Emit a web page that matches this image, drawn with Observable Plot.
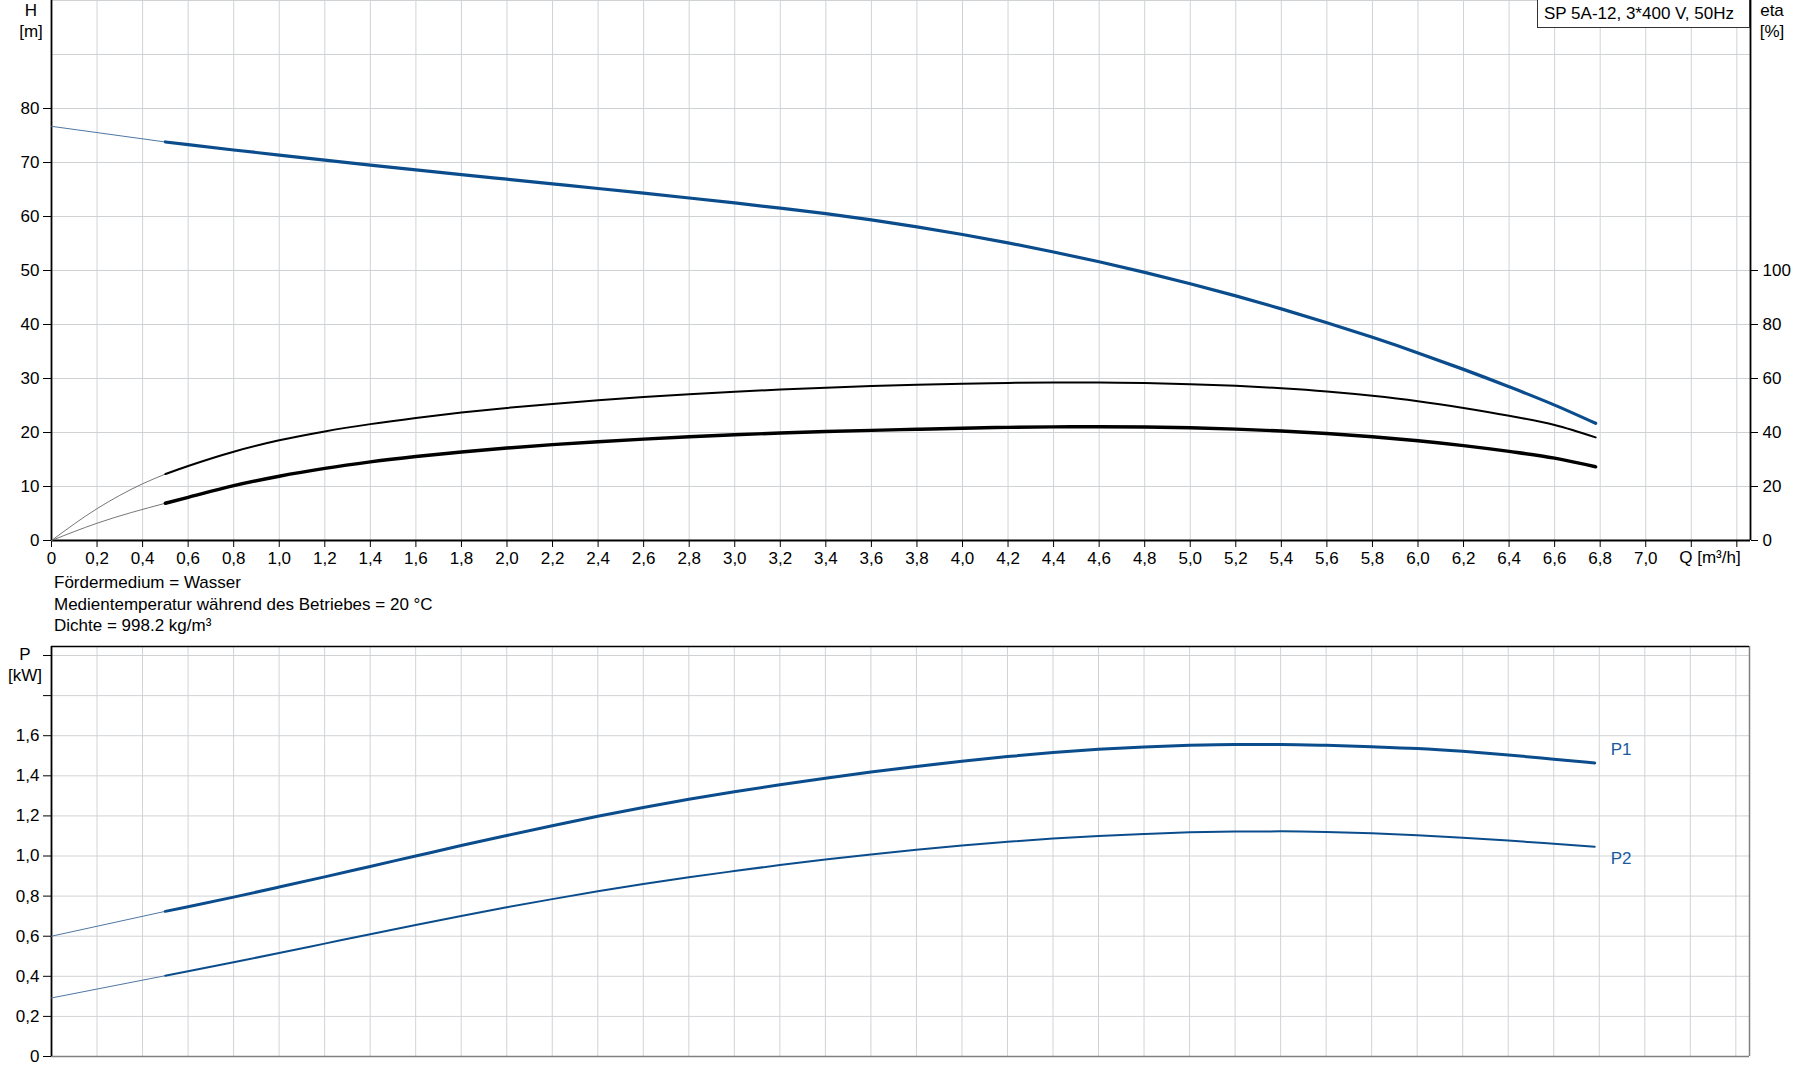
<!DOCTYPE html>
<html>
<head>
<meta charset="utf-8">
<script src="https://cdn.jsdelivr.net/npm/d3@7"></script>
<script src="https://cdn.jsdelivr.net/npm/@observablehq/plot@0.6"></script>
<style>
  html, body { margin: 0; padding: 0; background: #fff; }
  body { width: 1795px; height: 1081px; position: relative; overflow: hidden;
         font-family: "Liberation Sans", Arial, sans-serif; font-size: 17px; color: #000; }
  .abs { position: absolute; }
  .unit { position: absolute; text-align: center; line-height: 21px; }
</style>
</head>
<body>
<div id="chartTop" class="abs" style="left:0;top:0"></div>
<div id="chartBottom" class="abs" style="left:0;top:642px"></div>
<div class="unit" style="left:10px;top:0px;width:42px">H<br>[m]</div>
<div class="unit" style="left:1752px;top:0px;width:40px">eta<br>[%]</div>
<div class="unit" style="left:4px;top:644px;width:42px">P<br>[kW]</div>
<div class="abs" style="left:1537px;top:0;width:205px;height:27px;border:1px solid #333;border-top:none;background:#fff;padding-left:6px;line-height:27px;white-space:nowrap">SP 5A-12, 3*400 V, 50Hz</div>
<div class="abs" style="left:54px;top:572px;line-height:21.5px">Fördermedium = Wasser<br>Medientemperatur während des Betriebes = 20 °C<br>Dichte = 998.2 kg/m³</div>
<script>
// ---- data ----
const Q      = [0.5,0.6,0.8,1.0,1.2,1.4,1.6,1.8,2.0,2.2,2.4,2.6,2.8,3.0,3.2,3.4,3.6,3.8,4.0,4.2,4.4,4.6,4.8,5.0,5.2,5.4,5.6,5.8,6.0,6.2,6.4,6.6,6.78];
const H      = [73.8,73.3,72.32,71.37,70.44,69.53,68.64,67.77,66.91,66.05,65.19,64.32,63.43,62.51,61.55,60.53,59.38,58.08,56.66,55.11,53.43,51.61,49.65,47.55,45.3,42.9,40.34,37.62,34.74,31.69,28.47,25.07,21.7];
const ETA    = [24.6,27.6,32.9,37.1,40.4,43.1,45.4,47.4,49.1,50.6,51.95,53.15,54.2,55.1,55.9,56.6,57.2,57.7,58.1,58.35,58.5,58.5,58.3,57.9,57.3,56.4,55.2,53.6,51.6,49.1,46.2,42.8,38.2];
const ETA_TOT= [13.8,16.0,20.3,23.8,26.7,29.1,31.1,32.8,34.25,35.5,36.6,37.55,38.4,39.15,39.8,40.35,40.8,41.2,41.6,41.9,42.1,42.15,42.05,41.75,41.25,40.55,39.65,38.45,36.95,35.15,33.0,30.5,27.3];
const P1     = [0.724,0.747,0.795,0.845,0.896,0.948,1.000,1.052,1.102,1.151,1.198,1.242,1.283,1.320,1.355,1.388,1.419,1.447,1.473,1.496,1.516,1.532,1.544,1.552,1.556,1.556,1.552,1.545,1.536,1.522,1.504,1.483,1.464];
const P2     = [0.403,0.425,0.470,0.516,0.563,0.610,0.656,0.701,0.744,0.785,0.824,0.860,0.894,0.925,0.955,0.983,1.008,1.031,1.053,1.071,1.087,1.100,1.110,1.118,1.122,1.123,1.120,1.113,1.103,1.091,1.077,1.061,1.046];

// extrapolated (thin) parts from Q = 0 to 0.5
const Q_EXT_H   = [0, 0.5];           const H_EXT   = [76.7, 73.8];
const Q_EXT_ETA = [0, 0.2, 0.4, 0.5]; const ETA_EXT = [0, 11.8, 21.0, 24.6];
const Q_EXT_ETT = [0, 0.2, 0.5];      const ETT_EXT = [0, 6.4, 13.8];
const Q_EXT_P   = [0, 0.5];           const P1_EXT  = [0.600, 0.724]; const P2_EXT = [0.292, 0.403];

// ticks / labels
const qTicks   = [0,0.2,0.4,0.6,0.8,1.0,1.2,1.4,1.6,1.8,2.0,2.2,2.4,2.6,2.8,3.0,3.2,3.4,3.6,3.8,4.0,4.2,4.4,4.6,4.8,5.0,5.2,5.4,5.6,5.8,6.0,6.2,6.4,6.6,6.8,7.0,7.2,7.4];
const qLabelMax = 7.0;
const qAxisTitle = "Q [m³/h]";
const hTicks   = [0,10,20,30,40,50,60,70,80];
const hGrid    = [0,10,20,30,40,50,60,70,80,90,100];
const etaTicks = [0,20,40,60,80,100];
const pTicks   = [0,0.2,0.4,0.6,0.8,1.0,1.2,1.4,1.6,1.8,2.0];
const pLabelMax = 1.6;
const seriesNames = ["P1", "P2"];

// ---- helpers ----
const rows = (xs, ys) => xs.map((q, i) => ({q, v: ys[i]}));
const comma = d => d === 0 ? "0" : d.toFixed(1).replace(".", ",");
const BLUE = "#0b4d8c";
const GRID = "#d0d3d6";
const FONT = {fontFamily: '"Liberation Sans", Arial, sans-serif', fontSize: "17px", color: "#000", background: "transparent", overflow: "visible"};
const X_MAX = 7.46;
const CURVE = "monotone-x";

// ---- top chart: H and eta ----
const chartTop = Plot.plot({
  width: 1795, height: 570,
  marginTop: 0, marginBottom: 30, marginLeft: 51, marginRight: 45,
  style: FONT,
  x: {domain: [0, X_MAX], label: null},
  y: {domain: [0, 100], label: null},
  marks: [
    Plot.gridX(qTicks, {stroke: GRID, strokeOpacity: 1}),
    Plot.gridY(hGrid, {stroke: GRID, strokeOpacity: 1}),
    Plot.axisY(hTicks, {tickSize: 8, tickPadding: 4, tickFormat: d => String(d), label: null}),
    Plot.axisY(etaTicks.map(e => e / 2), {anchor: "right", tickSize: 7, tickPadding: 5, tickFormat: d => String(d * 2), label: null}),
    Plot.axisX(qTicks, {tickSize: 7, tickPadding: 4, tickFormat: d => d <= qLabelMax + 1e-9 ? comma(d) : "", label: null}),
    Plot.text([qAxisTitle], {x: () => qTicks[qTicks.length - 2], y: () => 0, text: d => d, textAnchor: "start", dx: -12, dy: 17, fontSize: 17}),
    Plot.ruleX([0], {stroke: "#000", strokeWidth: 1.8}),
    Plot.ruleX([X_MAX], {stroke: "#000", strokeWidth: 1.8}),
    Plot.ruleY([0], {stroke: "#000", strokeWidth: 1.8}),
    // extrapolations
    Plot.line(rows(Q_EXT_H, H_EXT), {x: "q", y: "v", stroke: "#4f77a3", strokeWidth: 1}),
    Plot.line(rows(Q_EXT_ETA, ETA_EXT), {x: "q", y: d => d.v / 2, stroke: "#666", strokeWidth: 0.9, curve: CURVE}),
    Plot.line(rows(Q_EXT_ETT, ETT_EXT), {x: "q", y: d => d.v / 2, stroke: "#666", strokeWidth: 0.9, curve: CURVE}),
    // curves
    Plot.line(rows(Q, ETA), {x: "q", y: d => d.v / 2, stroke: "#000", strokeWidth: 2, curve: CURVE}),
    Plot.line(rows(Q, ETA_TOT), {x: "q", y: d => d.v / 2, stroke: "#000", strokeWidth: 3.4, curve: CURVE}),
    Plot.line(rows(Q, H), {x: "q", y: "v", stroke: BLUE, strokeWidth: 3.2, curve: CURVE})
  ]
});
document.getElementById("chartTop").append(chartTop);

// ---- bottom chart: P1, P2 ----
const P_MAX = 2.045;
const p1Rows = rows(Q, P1), p2Rows = rows(Q, P2);
const chartBottom = Plot.plot({
  width: 1795, height: 439,
  marginTop: 4, marginBottom: 25, marginLeft: 51, marginRight: 46,
  style: FONT,
  x: {domain: [0, X_MAX], label: null, axis: null},
  y: {domain: [0, P_MAX], label: null},
  marks: [
    Plot.gridX(qTicks, {stroke: GRID, strokeOpacity: 1}),
    Plot.gridY(pTicks, {stroke: GRID, strokeOpacity: 1}),
    Plot.axisY(pTicks, {tickSize: 8, tickPadding: 4, tickFormat: d => d <= pLabelMax + 1e-9 ? comma(d) : "", label: null}),
    Plot.ruleY([0], {stroke: "#808080", strokeWidth: 1.5}),
    Plot.ruleX([X_MAX], {stroke: "#808080", strokeWidth: 1.5}),
    Plot.ruleY([P_MAX], {stroke: "#000", strokeWidth: 1.5}),
    Plot.ruleX([0], {stroke: "#000", strokeWidth: 1.8}),
    Plot.line(rows(Q_EXT_P, P1_EXT), {x: "q", y: "v", stroke: "#4f77a3", strokeWidth: 1}),
    Plot.line(rows(Q_EXT_P, P2_EXT), {x: "q", y: "v", stroke: "#4f77a3", strokeWidth: 1}),
    Plot.line(p1Rows, {x: "q", y: "v", stroke: BLUE, strokeWidth: 3, curve: CURVE}),
    Plot.line(p2Rows, {x: "q", y: "v", stroke: BLUE, strokeWidth: 2, curve: CURVE}),
    Plot.text([p1Rows[p1Rows.length - 1]], {x: "q", y: "v", text: () => seriesNames[0], textAnchor: "start", dx: 16, dy: -13, fill: "#1a5a9c", fontSize: 17}),
    Plot.text([p2Rows[p2Rows.length - 1]], {x: "q", y: "v", text: () => seriesNames[1], textAnchor: "start", dx: 16, dy: 12, fill: "#1a5a9c", fontSize: 17})
  ]
});
document.getElementById("chartBottom").append(chartBottom);
</script>
</body>
</html>
